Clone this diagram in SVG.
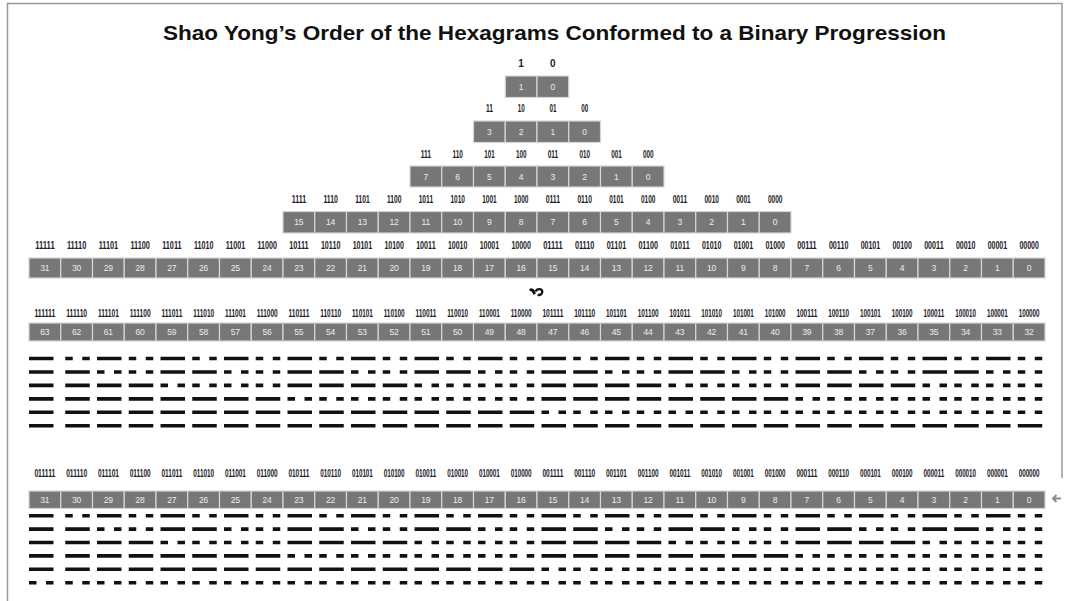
<svg xmlns="http://www.w3.org/2000/svg" width="1067" height="601" viewBox="0 0 1067 601">
<style>
text{font-family:"Liberation Sans",Arial,sans-serif}
.ttl{font-size:21px;font-weight:bold;fill:#111;text-anchor:middle}
.lb{font-size:10px;font-weight:bold;fill:#1c1c28;text-anchor:middle}
.nm{font-size:8.5px;fill:#ececec;text-anchor:middle}
.cells rect{fill:#777;stroke:#d6d6d6;stroke-width:1.2}
.hx path{fill:none;stroke:#111;stroke-width:3.6}
.S{stroke-dasharray:24.5 7.25}
.B{stroke-dasharray:7.5 9.5 7.5 7.25}
.L0{stroke-dasharray:24.5 7.25 7.5 9.5 7.5 7.25;stroke-dashoffset:31.75}
.L1{stroke-dasharray:24.5 7.25 24.5 7.25 7.5 9.5 7.5 7.25 7.5 9.5 7.5 7.25;stroke-dashoffset:31.75}
.L2{stroke-dasharray:24.5 7.25 24.5 7.25 24.5 7.25 24.5 7.25 7.5 9.5 7.5 7.25 7.5 9.5 7.5 7.25 7.5 9.5 7.5 7.25 7.5 9.5 7.5 7.25;stroke-dashoffset:31.75}
.frame{fill:none;stroke:#9a9a9a;stroke-width:1.5}
</style>
<g id="frame"><path class="frame" d="M7.5 601V3.5H1062V478"/></g>
<text class="ttl" x="554.5" y="40" textLength="783" lengthAdjust="spacingAndGlyphs">Shao Yong’s Order of the Hexagrams Conformed to a Binary Progression</text>

<g id="row1" class="cells">
<g id="r1-1"><rect x="505.25" y="76" width="31.75" height="21.5"/><text class="lb" x="521.13" y="67">1</text><text class="nm" x="521.13" y="89.7">1</text></g>
<g id="r1-0"><rect x="537" y="76" width="31.75" height="21.5"/><text class="lb" x="552.88" y="67">0</text><text class="nm" x="552.88" y="89.7">0</text></g>
</g>

<g id="row2" class="cells">
<g id="r2-3"><rect x="473.5" y="121" width="31.75" height="21.5"/><text class="lb" x="489.38" y="112" textLength="7" lengthAdjust="spacingAndGlyphs">11</text><text class="nm" x="489.38" y="134.7">3</text></g>
<g id="r2-2"><rect x="505.25" y="121" width="31.75" height="21.5"/><text class="lb" x="521.13" y="112" textLength="7" lengthAdjust="spacingAndGlyphs">10</text><text class="nm" x="521.13" y="134.7">2</text></g>
<g id="r2-1"><rect x="537" y="121" width="31.75" height="21.5"/><text class="lb" x="552.88" y="112" textLength="7" lengthAdjust="spacingAndGlyphs">01</text><text class="nm" x="552.88" y="134.7">1</text></g>
<g id="r2-0"><rect x="568.75" y="121" width="31.75" height="21.5"/><text class="lb" x="584.63" y="112" textLength="7" lengthAdjust="spacingAndGlyphs">00</text><text class="nm" x="584.63" y="134.7">0</text></g>
</g>

<g id="row3" class="cells">
<g id="r3-7"><rect x="410" y="166" width="31.75" height="21"/><text class="lb" x="425.88" y="157.5" textLength="10.5" lengthAdjust="spacingAndGlyphs">111</text><text class="nm" x="425.88" y="179.5">7</text></g>
<g id="r3-6"><rect x="441.75" y="166" width="31.75" height="21"/><text class="lb" x="457.63" y="157.5" textLength="10.5" lengthAdjust="spacingAndGlyphs">110</text><text class="nm" x="457.63" y="179.5">6</text></g>
<g id="r3-5"><rect x="473.5" y="166" width="31.75" height="21"/><text class="lb" x="489.38" y="157.5" textLength="10.5" lengthAdjust="spacingAndGlyphs">101</text><text class="nm" x="489.38" y="179.5">5</text></g>
<g id="r3-4"><rect x="505.25" y="166" width="31.75" height="21"/><text class="lb" x="521.13" y="157.5" textLength="10.5" lengthAdjust="spacingAndGlyphs">100</text><text class="nm" x="521.13" y="179.5">4</text></g>
<g id="r3-3"><rect x="537" y="166" width="31.75" height="21"/><text class="lb" x="552.88" y="157.5" textLength="10.5" lengthAdjust="spacingAndGlyphs">011</text><text class="nm" x="552.88" y="179.5">3</text></g>
<g id="r3-2"><rect x="568.75" y="166" width="31.75" height="21"/><text class="lb" x="584.63" y="157.5" textLength="10.5" lengthAdjust="spacingAndGlyphs">010</text><text class="nm" x="584.63" y="179.5">2</text></g>
<g id="r3-1"><rect x="600.5" y="166" width="31.75" height="21"/><text class="lb" x="616.38" y="157.5" textLength="10.5" lengthAdjust="spacingAndGlyphs">001</text><text class="nm" x="616.38" y="179.5">1</text></g>
<g id="r3-0"><rect x="632.25" y="166" width="31.75" height="21"/><text class="lb" x="648.13" y="157.5" textLength="10.5" lengthAdjust="spacingAndGlyphs">000</text><text class="nm" x="648.13" y="179.5">0</text></g>
</g>

<g id="row4" class="cells">
<g id="r4-15"><rect x="283" y="211.5" width="31.75" height="21.5"/><text class="lb" x="298.88" y="203" textLength="14.5" lengthAdjust="spacingAndGlyphs">1111</text><text class="nm" x="298.88" y="225.2">15</text></g>
<g id="r4-14"><rect x="314.75" y="211.5" width="31.75" height="21.5"/><text class="lb" x="330.63" y="203" textLength="14.5" lengthAdjust="spacingAndGlyphs">1110</text><text class="nm" x="330.63" y="225.2">14</text></g>
<g id="r4-13"><rect x="346.5" y="211.5" width="31.75" height="21.5"/><text class="lb" x="362.38" y="203" textLength="14.5" lengthAdjust="spacingAndGlyphs">1101</text><text class="nm" x="362.38" y="225.2">13</text></g>
<g id="r4-12"><rect x="378.25" y="211.5" width="31.75" height="21.5"/><text class="lb" x="394.13" y="203" textLength="14.5" lengthAdjust="spacingAndGlyphs">1100</text><text class="nm" x="394.13" y="225.2">12</text></g>
<g id="r4-11"><rect x="410" y="211.5" width="31.75" height="21.5"/><text class="lb" x="425.88" y="203" textLength="14.5" lengthAdjust="spacingAndGlyphs">1011</text><text class="nm" x="425.88" y="225.2">11</text></g>
<g id="r4-10"><rect x="441.75" y="211.5" width="31.75" height="21.5"/><text class="lb" x="457.63" y="203" textLength="14.5" lengthAdjust="spacingAndGlyphs">1010</text><text class="nm" x="457.63" y="225.2">10</text></g>
<g id="r4-9"><rect x="473.5" y="211.5" width="31.75" height="21.5"/><text class="lb" x="489.38" y="203" textLength="14.5" lengthAdjust="spacingAndGlyphs">1001</text><text class="nm" x="489.38" y="225.2">9</text></g>
<g id="r4-8"><rect x="505.25" y="211.5" width="31.75" height="21.5"/><text class="lb" x="521.13" y="203" textLength="14.5" lengthAdjust="spacingAndGlyphs">1000</text><text class="nm" x="521.13" y="225.2">8</text></g>
<g id="r4-7"><rect x="537" y="211.5" width="31.75" height="21.5"/><text class="lb" x="552.88" y="203" textLength="14.5" lengthAdjust="spacingAndGlyphs">0111</text><text class="nm" x="552.88" y="225.2">7</text></g>
<g id="r4-6"><rect x="568.75" y="211.5" width="31.75" height="21.5"/><text class="lb" x="584.63" y="203" textLength="14.5" lengthAdjust="spacingAndGlyphs">0110</text><text class="nm" x="584.63" y="225.2">6</text></g>
<g id="r4-5"><rect x="600.5" y="211.5" width="31.75" height="21.5"/><text class="lb" x="616.38" y="203" textLength="14.5" lengthAdjust="spacingAndGlyphs">0101</text><text class="nm" x="616.38" y="225.2">5</text></g>
<g id="r4-4"><rect x="632.25" y="211.5" width="31.75" height="21.5"/><text class="lb" x="648.13" y="203" textLength="14.5" lengthAdjust="spacingAndGlyphs">0100</text><text class="nm" x="648.13" y="225.2">4</text></g>
<g id="r4-3"><rect x="664" y="211.5" width="31.75" height="21.5"/><text class="lb" x="679.88" y="203" textLength="14.5" lengthAdjust="spacingAndGlyphs">0011</text><text class="nm" x="679.88" y="225.2">3</text></g>
<g id="r4-2"><rect x="695.75" y="211.5" width="31.75" height="21.5"/><text class="lb" x="711.63" y="203" textLength="14.5" lengthAdjust="spacingAndGlyphs">0010</text><text class="nm" x="711.63" y="225.2">2</text></g>
<g id="r4-1"><rect x="727.5" y="211.5" width="31.75" height="21.5"/><text class="lb" x="743.38" y="203" textLength="14.5" lengthAdjust="spacingAndGlyphs">0001</text><text class="nm" x="743.38" y="225.2">1</text></g>
<g id="r4-0"><rect x="759.25" y="211.5" width="31.75" height="21.5"/><text class="lb" x="775.13" y="203" textLength="14.5" lengthAdjust="spacingAndGlyphs">0000</text><text class="nm" x="775.13" y="225.2">0</text></g>
</g>

<g id="row5" class="cells">
<g id="r5-31"><rect x="29" y="258" width="31.75" height="20"/><text class="lb" x="44.88" y="248.5" textLength="19.5" lengthAdjust="spacingAndGlyphs">11111</text><text class="nm" x="44.88" y="271">31</text></g>
<g id="r5-30"><rect x="60.75" y="258" width="31.75" height="20"/><text class="lb" x="76.63" y="248.5" textLength="19.5" lengthAdjust="spacingAndGlyphs">11110</text><text class="nm" x="76.63" y="271">30</text></g>
<g id="r5-29"><rect x="92.5" y="258" width="31.75" height="20"/><text class="lb" x="108.38" y="248.5" textLength="19.5" lengthAdjust="spacingAndGlyphs">11101</text><text class="nm" x="108.38" y="271">29</text></g>
<g id="r5-28"><rect x="124.25" y="258" width="31.75" height="20"/><text class="lb" x="140.13" y="248.5" textLength="19.5" lengthAdjust="spacingAndGlyphs">11100</text><text class="nm" x="140.13" y="271">28</text></g>
<g id="r5-27"><rect x="156" y="258" width="31.75" height="20"/><text class="lb" x="171.88" y="248.5" textLength="19.5" lengthAdjust="spacingAndGlyphs">11011</text><text class="nm" x="171.88" y="271">27</text></g>
<g id="r5-26"><rect x="187.75" y="258" width="31.75" height="20"/><text class="lb" x="203.63" y="248.5" textLength="19.5" lengthAdjust="spacingAndGlyphs">11010</text><text class="nm" x="203.63" y="271">26</text></g>
<g id="r5-25"><rect x="219.5" y="258" width="31.75" height="20"/><text class="lb" x="235.38" y="248.5" textLength="19.5" lengthAdjust="spacingAndGlyphs">11001</text><text class="nm" x="235.38" y="271">25</text></g>
<g id="r5-24"><rect x="251.25" y="258" width="31.75" height="20"/><text class="lb" x="267.13" y="248.5" textLength="19.5" lengthAdjust="spacingAndGlyphs">11000</text><text class="nm" x="267.13" y="271">24</text></g>
<g id="r5-23"><rect x="283" y="258" width="31.75" height="20"/><text class="lb" x="298.88" y="248.5" textLength="19.5" lengthAdjust="spacingAndGlyphs">10111</text><text class="nm" x="298.88" y="271">23</text></g>
<g id="r5-22"><rect x="314.75" y="258" width="31.75" height="20"/><text class="lb" x="330.63" y="248.5" textLength="19.5" lengthAdjust="spacingAndGlyphs">10110</text><text class="nm" x="330.63" y="271">22</text></g>
<g id="r5-21"><rect x="346.5" y="258" width="31.75" height="20"/><text class="lb" x="362.38" y="248.5" textLength="19.5" lengthAdjust="spacingAndGlyphs">10101</text><text class="nm" x="362.38" y="271">21</text></g>
<g id="r5-20"><rect x="378.25" y="258" width="31.75" height="20"/><text class="lb" x="394.13" y="248.5" textLength="19.5" lengthAdjust="spacingAndGlyphs">10100</text><text class="nm" x="394.13" y="271">20</text></g>
<g id="r5-19"><rect x="410" y="258" width="31.75" height="20"/><text class="lb" x="425.88" y="248.5" textLength="19.5" lengthAdjust="spacingAndGlyphs">10011</text><text class="nm" x="425.88" y="271">19</text></g>
<g id="r5-18"><rect x="441.75" y="258" width="31.75" height="20"/><text class="lb" x="457.63" y="248.5" textLength="19.5" lengthAdjust="spacingAndGlyphs">10010</text><text class="nm" x="457.63" y="271">18</text></g>
<g id="r5-17"><rect x="473.5" y="258" width="31.75" height="20"/><text class="lb" x="489.38" y="248.5" textLength="19.5" lengthAdjust="spacingAndGlyphs">10001</text><text class="nm" x="489.38" y="271">17</text></g>
<g id="r5-16"><rect x="505.25" y="258" width="31.75" height="20"/><text class="lb" x="521.13" y="248.5" textLength="19.5" lengthAdjust="spacingAndGlyphs">10000</text><text class="nm" x="521.13" y="271">16</text></g>
<g id="r5-15"><rect x="537" y="258" width="31.75" height="20"/><text class="lb" x="552.88" y="248.5" textLength="19.5" lengthAdjust="spacingAndGlyphs">01111</text><text class="nm" x="552.88" y="271">15</text></g>
<g id="r5-14"><rect x="568.75" y="258" width="31.75" height="20"/><text class="lb" x="584.63" y="248.5" textLength="19.5" lengthAdjust="spacingAndGlyphs">01110</text><text class="nm" x="584.63" y="271">14</text></g>
<g id="r5-13"><rect x="600.5" y="258" width="31.75" height="20"/><text class="lb" x="616.38" y="248.5" textLength="19.5" lengthAdjust="spacingAndGlyphs">01101</text><text class="nm" x="616.38" y="271">13</text></g>
<g id="r5-12"><rect x="632.25" y="258" width="31.75" height="20"/><text class="lb" x="648.13" y="248.5" textLength="19.5" lengthAdjust="spacingAndGlyphs">01100</text><text class="nm" x="648.13" y="271">12</text></g>
<g id="r5-11"><rect x="664" y="258" width="31.75" height="20"/><text class="lb" x="679.88" y="248.5" textLength="19.5" lengthAdjust="spacingAndGlyphs">01011</text><text class="nm" x="679.88" y="271">11</text></g>
<g id="r5-10"><rect x="695.75" y="258" width="31.75" height="20"/><text class="lb" x="711.63" y="248.5" textLength="19.5" lengthAdjust="spacingAndGlyphs">01010</text><text class="nm" x="711.63" y="271">10</text></g>
<g id="r5-9"><rect x="727.5" y="258" width="31.75" height="20"/><text class="lb" x="743.38" y="248.5" textLength="19.5" lengthAdjust="spacingAndGlyphs">01001</text><text class="nm" x="743.38" y="271">9</text></g>
<g id="r5-8"><rect x="759.25" y="258" width="31.75" height="20"/><text class="lb" x="775.13" y="248.5" textLength="19.5" lengthAdjust="spacingAndGlyphs">01000</text><text class="nm" x="775.13" y="271">8</text></g>
<g id="r5-7"><rect x="791" y="258" width="31.75" height="20"/><text class="lb" x="806.88" y="248.5" textLength="19.5" lengthAdjust="spacingAndGlyphs">00111</text><text class="nm" x="806.88" y="271">7</text></g>
<g id="r5-6"><rect x="822.75" y="258" width="31.75" height="20"/><text class="lb" x="838.63" y="248.5" textLength="19.5" lengthAdjust="spacingAndGlyphs">00110</text><text class="nm" x="838.63" y="271">6</text></g>
<g id="r5-5"><rect x="854.5" y="258" width="31.75" height="20"/><text class="lb" x="870.38" y="248.5" textLength="19.5" lengthAdjust="spacingAndGlyphs">00101</text><text class="nm" x="870.38" y="271">5</text></g>
<g id="r5-4"><rect x="886.25" y="258" width="31.75" height="20"/><text class="lb" x="902.13" y="248.5" textLength="19.5" lengthAdjust="spacingAndGlyphs">00100</text><text class="nm" x="902.13" y="271">4</text></g>
<g id="r5-3"><rect x="918" y="258" width="31.75" height="20"/><text class="lb" x="933.88" y="248.5" textLength="19.5" lengthAdjust="spacingAndGlyphs">00011</text><text class="nm" x="933.88" y="271">3</text></g>
<g id="r5-2"><rect x="949.75" y="258" width="31.75" height="20"/><text class="lb" x="965.63" y="248.5" textLength="19.5" lengthAdjust="spacingAndGlyphs">00010</text><text class="nm" x="965.63" y="271">2</text></g>
<g id="r5-1"><rect x="981.5" y="258" width="31.75" height="20"/><text class="lb" x="997.38" y="248.5" textLength="19.5" lengthAdjust="spacingAndGlyphs">00001</text><text class="nm" x="997.38" y="271">1</text></g>
<g id="r5-0"><rect x="1013.25" y="258" width="31.75" height="20"/><text class="lb" x="1029.13" y="248.5" textLength="19.5" lengthAdjust="spacingAndGlyphs">00000</text><text class="nm" x="1029.13" y="271">0</text></g>
</g>

<g id="mark"><path d="M529.5 288.8c2-1.4 4.2-0.2 5.2 2l1.2 2.6-2.4 1.3-1.4-2.4c-0.7-1.2-1.6-1.6-2.6-1.2z" fill="#111"/><path d="M535.4 291.4c1.3-2.8 6.2-3.2 6.8-0.1c0.5 2.4-1.8 4.3-4.6 3.6" fill="none" stroke="#111" stroke-width="2.4"/></g>

<g id="row6" class="cells">
<g id="r6-63"><rect x="29" y="323" width="31.75" height="18"/><text class="lb" x="44.88" y="316.5" textLength="21" lengthAdjust="spacingAndGlyphs">111111</text><text class="nm" x="44.88" y="335">63</text></g>
<g id="r6-62"><rect x="60.75" y="323" width="31.75" height="18"/><text class="lb" x="76.63" y="316.5" textLength="21" lengthAdjust="spacingAndGlyphs">111110</text><text class="nm" x="76.63" y="335">62</text></g>
<g id="r6-61"><rect x="92.5" y="323" width="31.75" height="18"/><text class="lb" x="108.38" y="316.5" textLength="21" lengthAdjust="spacingAndGlyphs">111101</text><text class="nm" x="108.38" y="335">61</text></g>
<g id="r6-60"><rect x="124.25" y="323" width="31.75" height="18"/><text class="lb" x="140.13" y="316.5" textLength="21" lengthAdjust="spacingAndGlyphs">111100</text><text class="nm" x="140.13" y="335">60</text></g>
<g id="r6-59"><rect x="156" y="323" width="31.75" height="18"/><text class="lb" x="171.88" y="316.5" textLength="21" lengthAdjust="spacingAndGlyphs">111011</text><text class="nm" x="171.88" y="335">59</text></g>
<g id="r6-58"><rect x="187.75" y="323" width="31.75" height="18"/><text class="lb" x="203.63" y="316.5" textLength="21" lengthAdjust="spacingAndGlyphs">111010</text><text class="nm" x="203.63" y="335">58</text></g>
<g id="r6-57"><rect x="219.5" y="323" width="31.75" height="18"/><text class="lb" x="235.38" y="316.5" textLength="21" lengthAdjust="spacingAndGlyphs">111001</text><text class="nm" x="235.38" y="335">57</text></g>
<g id="r6-56"><rect x="251.25" y="323" width="31.75" height="18"/><text class="lb" x="267.13" y="316.5" textLength="21" lengthAdjust="spacingAndGlyphs">111000</text><text class="nm" x="267.13" y="335">56</text></g>
<g id="r6-55"><rect x="283" y="323" width="31.75" height="18"/><text class="lb" x="298.88" y="316.5" textLength="21" lengthAdjust="spacingAndGlyphs">110111</text><text class="nm" x="298.88" y="335">55</text></g>
<g id="r6-54"><rect x="314.75" y="323" width="31.75" height="18"/><text class="lb" x="330.63" y="316.5" textLength="21" lengthAdjust="spacingAndGlyphs">110110</text><text class="nm" x="330.63" y="335">54</text></g>
<g id="r6-53"><rect x="346.5" y="323" width="31.75" height="18"/><text class="lb" x="362.38" y="316.5" textLength="21" lengthAdjust="spacingAndGlyphs">110101</text><text class="nm" x="362.38" y="335">53</text></g>
<g id="r6-52"><rect x="378.25" y="323" width="31.75" height="18"/><text class="lb" x="394.13" y="316.5" textLength="21" lengthAdjust="spacingAndGlyphs">110100</text><text class="nm" x="394.13" y="335">52</text></g>
<g id="r6-51"><rect x="410" y="323" width="31.75" height="18"/><text class="lb" x="425.88" y="316.5" textLength="21" lengthAdjust="spacingAndGlyphs">110011</text><text class="nm" x="425.88" y="335">51</text></g>
<g id="r6-50"><rect x="441.75" y="323" width="31.75" height="18"/><text class="lb" x="457.63" y="316.5" textLength="21" lengthAdjust="spacingAndGlyphs">110010</text><text class="nm" x="457.63" y="335">50</text></g>
<g id="r6-49"><rect x="473.5" y="323" width="31.75" height="18"/><text class="lb" x="489.38" y="316.5" textLength="21" lengthAdjust="spacingAndGlyphs">110001</text><text class="nm" x="489.38" y="335">49</text></g>
<g id="r6-48"><rect x="505.25" y="323" width="31.75" height="18"/><text class="lb" x="521.13" y="316.5" textLength="21" lengthAdjust="spacingAndGlyphs">110000</text><text class="nm" x="521.13" y="335">48</text></g>
<g id="r6-47"><rect x="537" y="323" width="31.75" height="18"/><text class="lb" x="552.88" y="316.5" textLength="21" lengthAdjust="spacingAndGlyphs">101111</text><text class="nm" x="552.88" y="335">47</text></g>
<g id="r6-46"><rect x="568.75" y="323" width="31.75" height="18"/><text class="lb" x="584.63" y="316.5" textLength="21" lengthAdjust="spacingAndGlyphs">101110</text><text class="nm" x="584.63" y="335">46</text></g>
<g id="r6-45"><rect x="600.5" y="323" width="31.75" height="18"/><text class="lb" x="616.38" y="316.5" textLength="21" lengthAdjust="spacingAndGlyphs">101101</text><text class="nm" x="616.38" y="335">45</text></g>
<g id="r6-44"><rect x="632.25" y="323" width="31.75" height="18"/><text class="lb" x="648.13" y="316.5" textLength="21" lengthAdjust="spacingAndGlyphs">101100</text><text class="nm" x="648.13" y="335">44</text></g>
<g id="r6-43"><rect x="664" y="323" width="31.75" height="18"/><text class="lb" x="679.88" y="316.5" textLength="21" lengthAdjust="spacingAndGlyphs">101011</text><text class="nm" x="679.88" y="335">43</text></g>
<g id="r6-42"><rect x="695.75" y="323" width="31.75" height="18"/><text class="lb" x="711.63" y="316.5" textLength="21" lengthAdjust="spacingAndGlyphs">101010</text><text class="nm" x="711.63" y="335">42</text></g>
<g id="r6-41"><rect x="727.5" y="323" width="31.75" height="18"/><text class="lb" x="743.38" y="316.5" textLength="21" lengthAdjust="spacingAndGlyphs">101001</text><text class="nm" x="743.38" y="335">41</text></g>
<g id="r6-40"><rect x="759.25" y="323" width="31.75" height="18"/><text class="lb" x="775.13" y="316.5" textLength="21" lengthAdjust="spacingAndGlyphs">101000</text><text class="nm" x="775.13" y="335">40</text></g>
<g id="r6-39"><rect x="791" y="323" width="31.75" height="18"/><text class="lb" x="806.88" y="316.5" textLength="21" lengthAdjust="spacingAndGlyphs">100111</text><text class="nm" x="806.88" y="335">39</text></g>
<g id="r6-38"><rect x="822.75" y="323" width="31.75" height="18"/><text class="lb" x="838.63" y="316.5" textLength="21" lengthAdjust="spacingAndGlyphs">100110</text><text class="nm" x="838.63" y="335">38</text></g>
<g id="r6-37"><rect x="854.5" y="323" width="31.75" height="18"/><text class="lb" x="870.38" y="316.5" textLength="21" lengthAdjust="spacingAndGlyphs">100101</text><text class="nm" x="870.38" y="335">37</text></g>
<g id="r6-36"><rect x="886.25" y="323" width="31.75" height="18"/><text class="lb" x="902.13" y="316.5" textLength="21" lengthAdjust="spacingAndGlyphs">100100</text><text class="nm" x="902.13" y="335">36</text></g>
<g id="r6-35"><rect x="918" y="323" width="31.75" height="18"/><text class="lb" x="933.88" y="316.5" textLength="21" lengthAdjust="spacingAndGlyphs">100011</text><text class="nm" x="933.88" y="335">35</text></g>
<g id="r6-34"><rect x="949.75" y="323" width="31.75" height="18"/><text class="lb" x="965.63" y="316.5" textLength="21" lengthAdjust="spacingAndGlyphs">100010</text><text class="nm" x="965.63" y="335">34</text></g>
<g id="r6-33"><rect x="981.5" y="323" width="31.75" height="18"/><text class="lb" x="997.38" y="316.5" textLength="21" lengthAdjust="spacingAndGlyphs">100001</text><text class="nm" x="997.38" y="335">33</text></g>
<g id="r6-32"><rect x="1013.25" y="323" width="31.75" height="18"/><text class="lb" x="1029.13" y="316.5" textLength="21" lengthAdjust="spacingAndGlyphs">100000</text><text class="nm" x="1029.13" y="335">32</text></g>
</g>

<g id="hexagrams-upper" class="hx">
<path d="M29 358.5h24.5M29 371.95h24.5M29 385.4h24.5M29 398.85h24.5M29 412.3h24.5M29 425.75h24.5"/>
<path class="L0" d="M65.25 358.5H1042.25"/>
<path class="L1" d="M65.25 371.95H1042.25"/>
<path class="L2" d="M65.25 385.4H1042.25"/>
<path class="S" d="M65.25 398.85H287.5M541.5 398.85H795.5"/>
<path class="B" d="M287.5 398.85H541.5M795.5 398.85H1042.25"/>
<path class="S" d="M65.25 412.3H541.5"/>
<path class="B" d="M541.5 412.3H1042.25"/>
<path class="S" d="M65.25 425.75H1042.25"/>
</g>

<g id="row7" class="cells">
<g id="r7-31"><rect x="29" y="491" width="31.75" height="17.5"/><text class="lb" x="44.88" y="476.5" textLength="21" lengthAdjust="spacingAndGlyphs">011111</text><text class="nm" x="44.88" y="502.7">31</text></g>
<g id="r7-30"><rect x="60.75" y="491" width="31.75" height="17.5"/><text class="lb" x="76.63" y="476.5" textLength="21" lengthAdjust="spacingAndGlyphs">011110</text><text class="nm" x="76.63" y="502.7">30</text></g>
<g id="r7-29"><rect x="92.5" y="491" width="31.75" height="17.5"/><text class="lb" x="108.38" y="476.5" textLength="21" lengthAdjust="spacingAndGlyphs">011101</text><text class="nm" x="108.38" y="502.7">29</text></g>
<g id="r7-28"><rect x="124.25" y="491" width="31.75" height="17.5"/><text class="lb" x="140.13" y="476.5" textLength="21" lengthAdjust="spacingAndGlyphs">011100</text><text class="nm" x="140.13" y="502.7">28</text></g>
<g id="r7-27"><rect x="156" y="491" width="31.75" height="17.5"/><text class="lb" x="171.88" y="476.5" textLength="21" lengthAdjust="spacingAndGlyphs">011011</text><text class="nm" x="171.88" y="502.7">27</text></g>
<g id="r7-26"><rect x="187.75" y="491" width="31.75" height="17.5"/><text class="lb" x="203.63" y="476.5" textLength="21" lengthAdjust="spacingAndGlyphs">011010</text><text class="nm" x="203.63" y="502.7">26</text></g>
<g id="r7-25"><rect x="219.5" y="491" width="31.75" height="17.5"/><text class="lb" x="235.38" y="476.5" textLength="21" lengthAdjust="spacingAndGlyphs">011001</text><text class="nm" x="235.38" y="502.7">25</text></g>
<g id="r7-24"><rect x="251.25" y="491" width="31.75" height="17.5"/><text class="lb" x="267.13" y="476.5" textLength="21" lengthAdjust="spacingAndGlyphs">011000</text><text class="nm" x="267.13" y="502.7">24</text></g>
<g id="r7-23"><rect x="283" y="491" width="31.75" height="17.5"/><text class="lb" x="298.88" y="476.5" textLength="21" lengthAdjust="spacingAndGlyphs">010111</text><text class="nm" x="298.88" y="502.7">23</text></g>
<g id="r7-22"><rect x="314.75" y="491" width="31.75" height="17.5"/><text class="lb" x="330.63" y="476.5" textLength="21" lengthAdjust="spacingAndGlyphs">010110</text><text class="nm" x="330.63" y="502.7">22</text></g>
<g id="r7-21"><rect x="346.5" y="491" width="31.75" height="17.5"/><text class="lb" x="362.38" y="476.5" textLength="21" lengthAdjust="spacingAndGlyphs">010101</text><text class="nm" x="362.38" y="502.7">21</text></g>
<g id="r7-20"><rect x="378.25" y="491" width="31.75" height="17.5"/><text class="lb" x="394.13" y="476.5" textLength="21" lengthAdjust="spacingAndGlyphs">010100</text><text class="nm" x="394.13" y="502.7">20</text></g>
<g id="r7-19"><rect x="410" y="491" width="31.75" height="17.5"/><text class="lb" x="425.88" y="476.5" textLength="21" lengthAdjust="spacingAndGlyphs">010011</text><text class="nm" x="425.88" y="502.7">19</text></g>
<g id="r7-18"><rect x="441.75" y="491" width="31.75" height="17.5"/><text class="lb" x="457.63" y="476.5" textLength="21" lengthAdjust="spacingAndGlyphs">010010</text><text class="nm" x="457.63" y="502.7">18</text></g>
<g id="r7-17"><rect x="473.5" y="491" width="31.75" height="17.5"/><text class="lb" x="489.38" y="476.5" textLength="21" lengthAdjust="spacingAndGlyphs">010001</text><text class="nm" x="489.38" y="502.7">17</text></g>
<g id="r7-16"><rect x="505.25" y="491" width="31.75" height="17.5"/><text class="lb" x="521.13" y="476.5" textLength="21" lengthAdjust="spacingAndGlyphs">010000</text><text class="nm" x="521.13" y="502.7">16</text></g>
<g id="r7-15"><rect x="537" y="491" width="31.75" height="17.5"/><text class="lb" x="552.88" y="476.5" textLength="21" lengthAdjust="spacingAndGlyphs">001111</text><text class="nm" x="552.88" y="502.7">15</text></g>
<g id="r7-14"><rect x="568.75" y="491" width="31.75" height="17.5"/><text class="lb" x="584.63" y="476.5" textLength="21" lengthAdjust="spacingAndGlyphs">001110</text><text class="nm" x="584.63" y="502.7">14</text></g>
<g id="r7-13"><rect x="600.5" y="491" width="31.75" height="17.5"/><text class="lb" x="616.38" y="476.5" textLength="21" lengthAdjust="spacingAndGlyphs">001101</text><text class="nm" x="616.38" y="502.7">13</text></g>
<g id="r7-12"><rect x="632.25" y="491" width="31.75" height="17.5"/><text class="lb" x="648.13" y="476.5" textLength="21" lengthAdjust="spacingAndGlyphs">001100</text><text class="nm" x="648.13" y="502.7">12</text></g>
<g id="r7-11"><rect x="664" y="491" width="31.75" height="17.5"/><text class="lb" x="679.88" y="476.5" textLength="21" lengthAdjust="spacingAndGlyphs">001011</text><text class="nm" x="679.88" y="502.7">11</text></g>
<g id="r7-10"><rect x="695.75" y="491" width="31.75" height="17.5"/><text class="lb" x="711.63" y="476.5" textLength="21" lengthAdjust="spacingAndGlyphs">001010</text><text class="nm" x="711.63" y="502.7">10</text></g>
<g id="r7-9"><rect x="727.5" y="491" width="31.75" height="17.5"/><text class="lb" x="743.38" y="476.5" textLength="21" lengthAdjust="spacingAndGlyphs">001001</text><text class="nm" x="743.38" y="502.7">9</text></g>
<g id="r7-8"><rect x="759.25" y="491" width="31.75" height="17.5"/><text class="lb" x="775.13" y="476.5" textLength="21" lengthAdjust="spacingAndGlyphs">001000</text><text class="nm" x="775.13" y="502.7">8</text></g>
<g id="r7-7"><rect x="791" y="491" width="31.75" height="17.5"/><text class="lb" x="806.88" y="476.5" textLength="21" lengthAdjust="spacingAndGlyphs">000111</text><text class="nm" x="806.88" y="502.7">7</text></g>
<g id="r7-6"><rect x="822.75" y="491" width="31.75" height="17.5"/><text class="lb" x="838.63" y="476.5" textLength="21" lengthAdjust="spacingAndGlyphs">000110</text><text class="nm" x="838.63" y="502.7">6</text></g>
<g id="r7-5"><rect x="854.5" y="491" width="31.75" height="17.5"/><text class="lb" x="870.38" y="476.5" textLength="21" lengthAdjust="spacingAndGlyphs">000101</text><text class="nm" x="870.38" y="502.7">5</text></g>
<g id="r7-4"><rect x="886.25" y="491" width="31.75" height="17.5"/><text class="lb" x="902.13" y="476.5" textLength="21" lengthAdjust="spacingAndGlyphs">000100</text><text class="nm" x="902.13" y="502.7">4</text></g>
<g id="r7-3"><rect x="918" y="491" width="31.75" height="17.5"/><text class="lb" x="933.88" y="476.5" textLength="21" lengthAdjust="spacingAndGlyphs">000011</text><text class="nm" x="933.88" y="502.7">3</text></g>
<g id="r7-2"><rect x="949.75" y="491" width="31.75" height="17.5"/><text class="lb" x="965.63" y="476.5" textLength="21" lengthAdjust="spacingAndGlyphs">000010</text><text class="nm" x="965.63" y="502.7">2</text></g>
<g id="r7-1"><rect x="981.5" y="491" width="31.75" height="17.5"/><text class="lb" x="997.38" y="476.5" textLength="21" lengthAdjust="spacingAndGlyphs">000001</text><text class="nm" x="997.38" y="502.7">1</text></g>
<g id="r7-0"><rect x="1013.25" y="491" width="31.75" height="17.5"/><text class="lb" x="1029.13" y="476.5" textLength="21" lengthAdjust="spacingAndGlyphs">000000</text><text class="nm" x="1029.13" y="502.7">0</text></g>
</g>

<g id="connectors"><path d="M1061 498.5H1053M1056.5 495L1053 498.5L1056.5 502" fill="none" stroke="#8a8a8a" stroke-width="2"/></g>

<g id="hexagrams-lower" class="hx">
<path d="M29 515.7h24.5M29 529.1h24.5M29 542.5h24.5M29 555.9h24.5M29 569.3h24.5M29 582.7h7.5M46 582.7h7.5"/>
<path class="L0" d="M65.25 515.7H1042.25"/>
<path class="L1" d="M65.25 529.1H1042.25"/>
<path class="L2" d="M65.25 542.5H1042.25"/>
<path class="S" d="M65.25 555.9H287.5M541.5 555.9H795.5"/>
<path class="B" d="M287.5 555.9H541.5M795.5 555.9H1042.25"/>
<path class="S" d="M65.25 569.3H541.5"/>
<path class="B" d="M541.5 569.3H1042.25"/>
<path class="B" d="M65.25 582.7H1042.25"/>
</g>
</svg>
